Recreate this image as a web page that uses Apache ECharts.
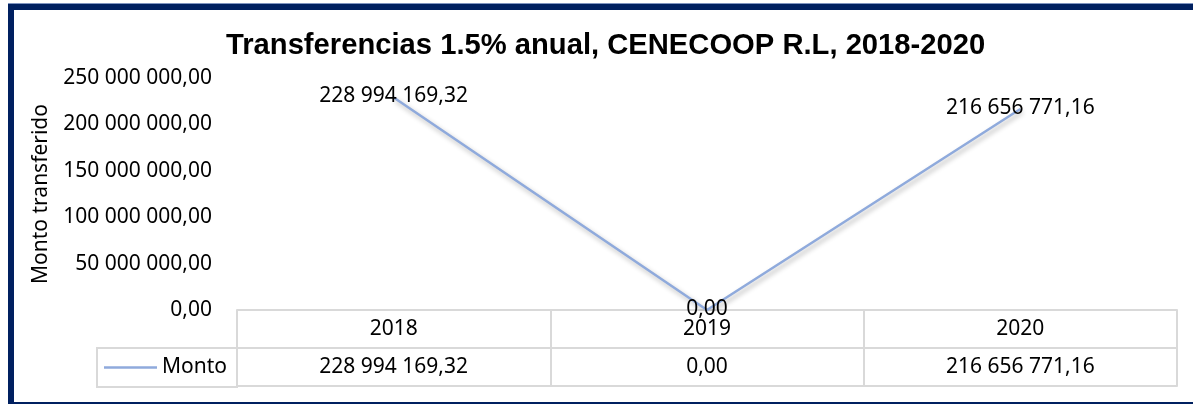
<!DOCTYPE html>
<html>
<head>
<meta charset="utf-8">
<script src="https://cdn.jsdelivr.net/npm/echarts@6/dist/echarts.min.js"></script>
<style>
    html, body { margin: 0; padding: 0; background: #fff; overflow: hidden; }
    #frame {
        position: absolute; left: 8px; top: 4px;
        width: 1250px; height: 404px; box-sizing: border-box;
        border: 6px solid #002060;
        box-shadow: 0 -1px 0 #7f94c0;
    }
    #chart { position: absolute; left: 0; top: 0; width: 1193px; height: 404px; }
</style>
</head>
<body>
<div id="frame"></div>
<div id="chart"></div>
<script>
// datos
var years = ['2018', '2019', '2020'];
var montos = [228994169.32, 0, 216656771.16];
var serieNombre = 'Monto';

/**
 * Formato 228 994 169,32
 */
function formatMonto(v) {
    var parts = Number(v).toFixed(2).split('.');
    return parts[0].replace(/\B(?=(\d{3})+(?!\d))/g, ' ') + ',' + parts[1];
}

var chart = echarts.init(document.getElementById('chart'), null, { renderer: 'canvas' });

var fuente = '"Noto Sans", sans-serif';
var tam = 21;
var gris = '#d9d9d9';
var azul = '#8faadc';

var option = {
    backgroundColor: 'transparent',
    animation: false,
    title: {
        text: 'Transferencias 1.5% anual, CENECOOP R.L, 2018-2020',
        left: 221,
        top: 26,
        textStyle: {
            fontFamily: '"Liberation Sans", Arial, sans-serif',
            fontWeight: 'bold',
            fontSize: 29.2,
            color: '#000'
        }
    },
    legend: {
        data: [{ name: serieNombre, icon: 'rect' }],
        left: 97,
        top: 348,
        padding: [9, 10, 9, 7],
        itemWidth: 53,
        itemHeight: 2.5,
        itemGap: 0,
        borderColor: gris,
        borderWidth: 2,
        itemStyle: { color: azul, opacity: 1 },
        textStyle: {
            fontFamily: fuente,
            fontSize: tam,
            lineHeight: 20,
            color: '#000'
        }
    },
    grid: {
        left: 237,
        right: 16,
        top: 78,
        bottom: 94
    },
    xAxis: [{
        type: 'category',
        data: years,
        boundaryGap: true,
        axisLine: { show: true, lineStyle: { color: gris, width: 2 } },
        axisTick: { show: true, length: 76, lineStyle: { color: gris, width: 2 } },
        axisLabel: {
            margin: 9,
            fontFamily: fuente,
            fontSize: tam,
            color: '#000'
        },
        splitLine: { show: false }
    }, {
        type: 'category',
        position: 'bottom',
        offset: 38,
        data: montos.map(formatMonto),
        axisLine: { show: true, lineStyle: { color: gris, width: 2 } },
        axisTick: { show: false },
        axisLabel: {
            margin: 9,
            fontFamily: fuente,
            fontSize: tam,
            color: '#000'
        }
    }, {
        type: 'category',
        position: 'bottom',
        offset: 76,
        data: years,
        axisLine: { show: true, lineStyle: { color: gris, width: 2 } },
        axisTick: { show: false },
        axisLabel: { show: false }
    }],
    yAxis: {
        type: 'value',
        min: 0,
        max: 250000000,
        interval: 50000000,
        name: 'Monto transferido',
        nameLocation: 'middle',
        nameGap: 185,
        nameTextStyle: {
            fontFamily: fuente,
            fontSize: tam,
            color: '#000'
        },
        axisLine: { show: false },
        axisTick: { show: false },
        splitLine: { show: false },
        axisLabel: {
            margin: 25,
            fontFamily: fuente,
            fontSize: tam,
            color: '#000',
            formatter: formatMonto
        }
    },
    series: [{
        name: serieNombre,
        type: 'line',
        data: montos,
        xAxisIndex: 0,
        symbol: 'circle',
        symbolSize: 1,
        showSymbol: true,
        itemStyle: { color: 'transparent' },
        lineStyle: {
            color: azul,
            width: 2.5,
            shadowColor: 'rgba(0, 0, 0, 0.3)',
            shadowBlur: 5,
            shadowOffsetX: 2,
            shadowOffsetY: 3
        },
        label: {
            show: true,
            position: 'top',
            distance: -10,
            fontFamily: fuente,
            fontSize: tam,
            color: '#000',
            formatter: function(p) { return formatMonto(p.value); }
        }
    }]
};

chart.setOption(option);
</script>
</body>
</html>
